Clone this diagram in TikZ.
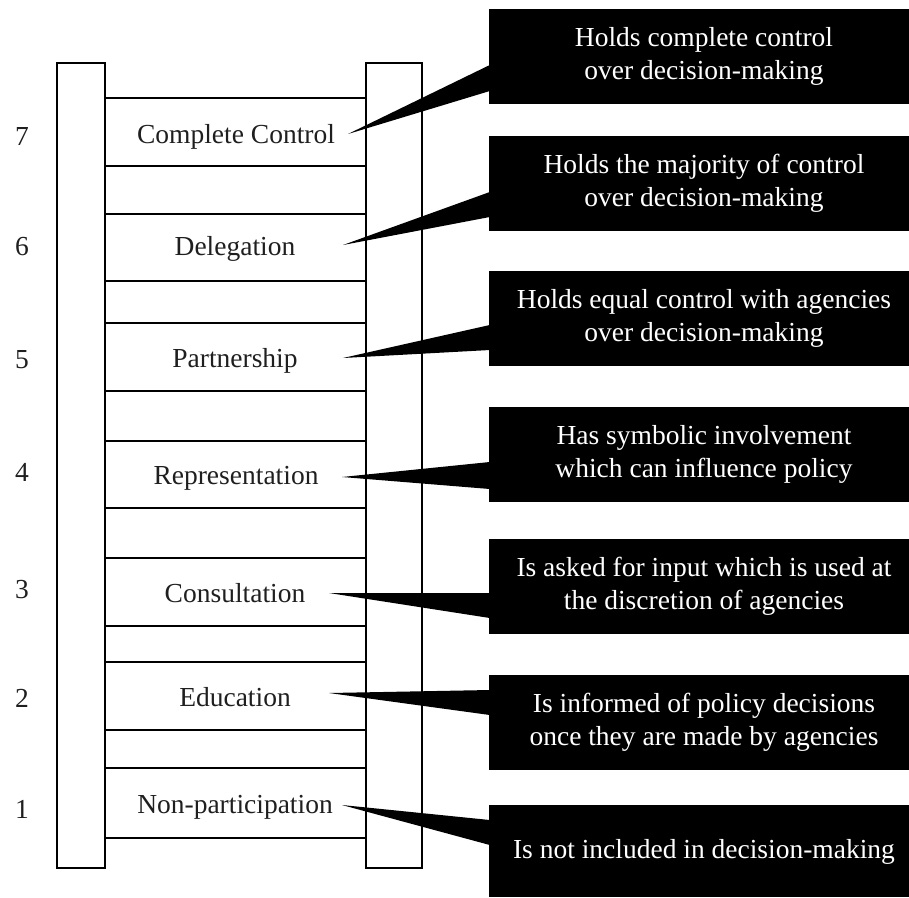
\documentclass[tikz,border=0pt]{standalone}
\usepackage{fontspec}
\setmainfont{Liberation Serif}
\begin{document}
\begin{tikzpicture}[x=1pt,y=-1pt,
  rail/.style={draw=black, line width=2.6pt},
  stepbox/.style={draw=black, line width=2.6pt},
  lbl/.style={font=\fontsize{27.5}{33}\selectfont, text=black!88, anchor=base, inner sep=0pt},
  callbox/.style={fill=black, text=white, font=\fontsize{27.5}{33}\selectfont, align=center,
    inner sep=0pt, minimum width=430pt, minimum height=95pt},
  wedge/.style={fill=black}]
\useasboundingbox (0,0) rectangle (909,897);

% ladder rails
\draw[rail] (57,63) rectangle (105,868);
\draw[rail] (366,63) rectangle (422,868);

% steps
\draw[stepbox] (105,98) rectangle (366,166);
\draw[stepbox] (105,214) rectangle (366,281);
\draw[stepbox] (105,323) rectangle (366,391);
\draw[stepbox] (105,441) rectangle (366,508);
\draw[stepbox] (105,558) rectangle (366,626);
\draw[stepbox] (105,662) rectangle (366,730);
\draw[stepbox] (105,768) rectangle (366,838);

% step labels
\node[lbl] (l7) at (236,143) {Complete Control};
\node[lbl] (l6) at (235,255) {Delegation};
\node[lbl] (l5) at (235,367) {Partnership};
\node[lbl] (l4) at (236,484) {Representation};
\node[lbl] (l3) at (235,602) {Consultation};
\node[lbl] (l2) at (235,706) {Education};
\node[lbl] (l1) at (235,813) {Non-participation};

% level numbers
\node[lbl] (n7) at (22,145) {7};
\node[lbl] (n6) at (22,255) {6};
\node[lbl] (n5) at (22,368) {5};
\node[lbl] (n4) at (22,481) {4};
\node[lbl] (n3) at (22,598) {3};
\node[lbl] (n2) at (22,707) {2};
\node[lbl] (n1) at (22,818) {1};

% callout boxes
\node[callbox] (b1) at (704,56.5) {Holds complete control\\over decision-making};
\node[callbox] (b2) at (704,183.5) {Holds the majority of control\\over decision-making};
\node[callbox] (b3) at (704,318.5) {Holds equal control with agencies\\over decision-making};
\node[callbox] (b4) at (704,454.5) {Has symbolic involvement\\which can influence policy};
\node[callbox] (b5) at (704,586.5) {Is asked for input which is used at\\the discretion of agencies};
\node[callbox] (b6) at (704,722.5) {Is informed of policy decisions\\once they are made by agencies};
\node[callbox, minimum height=92pt, text depth=4pt] (b7) at (704,851) {Is not included in decision-making};

% callout tips
\coordinate (t1) at (348,134);
\coordinate (t2) at (343,245);
\coordinate (t3) at (343,358);
\coordinate (t4) at (342,477);
\coordinate (t5) at (329,593);
\coordinate (t6) at (329,693);
\coordinate (t7) at (342,805);

% wedges
\fill[wedge] (t1) -- ([xshift=1pt,yshift=-8.5pt]b1.west) -- ([xshift=1pt,yshift=-34.5pt]b1.west) -- cycle;
\fill[wedge] (t2) -- ([xshift=1pt,yshift=-8.5pt]b2.west) -- ([xshift=1pt,yshift=-33.5pt]b2.west) -- cycle;
\fill[wedge] (t3) -- ([xshift=1pt,yshift=-6.5pt]b3.west) -- ([xshift=1pt,yshift=-31.5pt]b3.west) -- cycle;
\fill[wedge] (t4) -- ([xshift=1pt,yshift=-7.5pt]b4.west) -- ([xshift=1pt,yshift=-34.5pt]b4.west) -- cycle;
\fill[wedge] (t5) -- ([xshift=1pt,yshift=-6.5pt]b5.west) -- ([xshift=1pt,yshift=-31.5pt]b5.west) -- cycle;
\fill[wedge] (t6) -- ([xshift=1pt,yshift=32.5pt]b6.west) -- ([xshift=1pt,yshift=7.5pt]b6.west) -- cycle;
\fill[wedge] (t7) -- ([xshift=1pt,yshift=31pt]b7.west) -- ([xshift=1pt,yshift=6pt]b7.west) -- cycle;
\end{tikzpicture}
\end{document}
